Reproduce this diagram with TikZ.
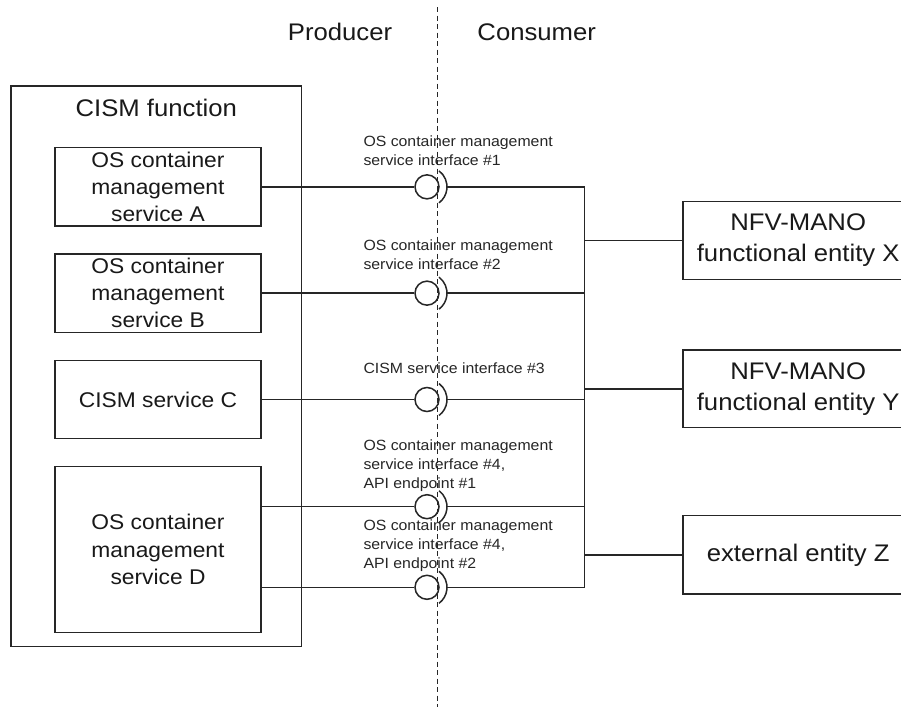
\documentclass[tikz,border=0pt]{standalone}
\usepackage{fontspec}
\setmainfont[FakeStretch=1.07]{Liberation Sans}
\begin{document}
\begin{tikzpicture}[x=1pt,y=-1pt,
  line/.style={draw=black!85,line width=1.5pt},
  outerbox/.style={draw=black!85,line width=1.5pt,inner sep=0pt},
  svcbox/.style={draw=black!85,line width=1.5pt,inner sep=0pt,align=center,
    minimum width=206pt,font=\fontsize{21.3}{27.2}\selectfont,text=black!90},
  entbox/.style={draw=black!85,line width=1.5pt,inner sep=0pt,align=center,
    minimum width=230pt,font=\fontsize{24}{31}\selectfont,text=black!90},
  ball/.style={circle,draw=black!85,line width=1.5pt,minimum size=24pt,inner sep=0pt,fill=white},
  iflabel/.style={anchor=south west,align=left,inner sep=0pt,text depth=0pt,
    font=\fontsize{14.8}{19}\selectfont,text=black!85},
  header/.style={anchor=base,inner sep=0pt,font=\fontsize{24}{28}\selectfont,text=black!90},
  divider/.style={draw=black!85,line width=1.2pt,dash pattern=on 5pt off 3.5pt}]
\useasboundingbox (0,0) rectangle (901,707);
\clip (0,0) rectangle (901,707);
\fill[white] (0,0) rectangle (901,707);

% producer / consumer headings
\node[header] (prod) at (340,40) {Producer};
\node[header] (cons) at (536.7,40) {Consumer};

% CISM function with its services
\node[outerbox,minimum width=290.7pt,minimum height=560.7pt] (cism) at (156.35,366.35) {};
\node[header] (cismtitle) at (156.3,116.7) {CISM function};
\node[svcbox,minimum height=78.3pt] (A) at (158,186.85) {OS container\\management\\service A};
\node[svcbox,minimum height=78.3pt] (B) at (158,293.15) {OS container\\management\\service B};
\node[svcbox,minimum height=77.6pt] (C) at (158,399.5) {CISM service C};
\node[svcbox,minimum height=165.6pt] (D) at (158,549.5) {OS container\\management\\service D};

% consuming entities
\node[entbox,minimum height=77.6pt] (X) at (798.2,240.5) {NFV-MANO\\functional entity X};
\node[entbox,minimum height=77.7pt] (Y) at (798.2,388.85) {NFV-MANO\\functional entity Y};
\node[entbox,minimum height=78.3pt] (Z) at (798.2,554.85) {external entity Z};

% provided interfaces (ball) and required sockets
\node[ball] (b1) at (427,186.85) {};
\node[ball] (b2) at (427,293.15) {};
\node[ball] (b3) at (427,399.5) {};
\node[ball] (b4) at (427,506.7) {};
\node[ball] (b5) at (427,587.3) {};
\foreach \i in {1,...,5}{
  \coordinate (s\i) at ([xshift=20pt]b\i.center);
  \draw[line] ([shift={(53:20pt)}]b\i.center) arc[start angle=53,end angle=-53,radius=20pt];
}

% bus on the consumer side
\coordinate (j1) at (584.5,186.85);
\coordinate (j2) at (584.5,293.15);
\coordinate (j3) at (584.5,399.5);
\coordinate (j4) at (584.5,506.7);
\coordinate (j5) at (584.5,587.3);
\coordinate (jx) at (584.5,240.5);
\coordinate (jy) at (584.5,388.85);
\coordinate (jz) at (584.5,554.85);

% producer side connectors
\draw[line] (A.east) -- (b1.west);
\draw[line] (B.east) -- (b2.west);
\draw[line] (C.east) -- (b3.west);
\draw[line] (D.east |- b4.west) -- (b4.west);
\draw[line] (D.east |- b5.west) -- (b5.west);

% consumer side connectors
\foreach \i in {1,...,5}{ \draw[line] (s\i) -- (j\i); }
\draw[line] (j1) -- (j5);
\draw[line] (jx) -- (X.west);
\draw[line] (jy) -- (Y.west);
\draw[line] (jz) -- (Z.west);

% interface labels
\node[iflabel] (l1) at (363.3,166) {OS container management\\service interface \#1};
\node[iflabel] (l2) at (363.3,270) {OS container management\\service interface \#2};
\node[iflabel] (l3) at (363.3,374) {CISM service interface \#3};
\node[iflabel] (l4) at (363.3,488.3) {OS container management\\service interface \#4,\\API endpoint \#1};
\node[iflabel] (l5) at (363.3,568.3) {OS container management\\service interface \#4,\\API endpoint \#2};

% producer / consumer boundary
\coordinate (dtop) at (437.7,7);
\coordinate (dbot) at (437.7,707);
\draw[divider] (dtop) -- (dbot);
\end{tikzpicture}
\end{document}
